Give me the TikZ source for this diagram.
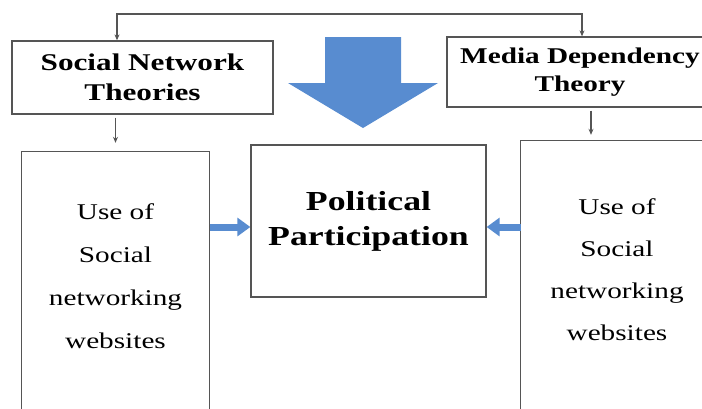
\documentclass[tikz,border=0pt]{standalone}
\usepackage{fontspec}
\setmainfont{Liberation Serif}[FakeStretch=1.3]
\usepackage{xcolor}
\usepackage{tikz}
\usetikzlibrary{arrows.meta}
\usetikzlibrary{positioning}

\definecolor{boxgray}{RGB}{85,85,85}
\definecolor{arrowblue}{RGB}{88,140,208}

\begin{document}
\begin{tikzpicture}[x=1pt, y=-1pt,
    frame/.style={draw=boxgray, line width=1.3pt},
    theory/.style={frame, align=center, inner sep=0pt, font=\bfseries},
    usebox/.style={align=center, inner sep=0pt, minimum width=188pt, font=\fontsize{22.5}{43}\selectfont},
    thinarrow/.style={draw=boxgray, line width=1.3pt, -{Stealth[length=6pt,width=5pt]}},
    bluearrow/.style={draw=arrowblue, line width=7pt, -{Triangle[length=13pt,width=18pt]}}]

        \useasboundingbox (0,0) rectangle (702,408);
        \clip (0,0) rectangle (702,408);

        % Nodos
        \node[theory, minimum width=261pt, minimum height=73pt, font=\bfseries\fontsize{24}{30}\selectfont] (snt) at (142.5,77.5) {Social Network\\Theories};
        \node[theory, minimum width=266pt, minimum height=70pt, font=\bfseries\fontsize{22.5}{28}\selectfont] (mdt) at (580,72) {Media Dependency\\Theory};
        \node[theory, minimum width=235pt, minimum height=152pt, font=\bfseries\fontsize{27.5}{35}\selectfont] (pp) at (368.5,221) {Political\\Participation};
        \node[usebox, minimum height=248pt] (usel) at (115.5,276) {Use of\\Social\\networking\\websites};
        \node[usebox, minimum width=192pt, minimum height=258pt, font=\fontsize{22.5}{42}\selectfont] (user) at (617,270) {Use of\\Social\\networking\\websites};

        % Cajas abiertas
        \draw[frame] ([yshift=-30pt]usel.south west) -- (usel.north west) -- (usel.north east) -- ([yshift=-30pt]usel.south east);
        \draw[frame] ([yshift=-30pt]user.south west) -- (user.north west) -- (user.north east) -- ([yshift=-30pt]user.south east);

        % Flecha grande
        \fill[arrowblue] (325,37) -- (401,37) -- (401,83) -- (438,83) -- (363,128) -- (288,83) -- (325,83) -- cycle;

        % Aristas
        \coordinate (barl) at ([xshift=-25.5pt]snt.north);
        \coordinate (barr) at ([xshift=2pt]mdt.north);
        \coordinate (top) at (0,14);
        \draw[thinarrow, {Stealth[length=6pt,width=5pt]}-{Stealth[length=6pt,width=5pt]}] (barl) -- (barl |- top) -- (barr |- top) -- (barr);
        \draw[thinarrow, shorten <=3pt, shorten >=9pt] (usel.north |- snt.south) -- (usel.north);
        \coordinate (rdown) at ([xshift=-26pt]user.north);
        \draw[thinarrow, shorten <=3pt, shorten >=6pt] (rdown |- mdt.south) -- (rdown);
        \coordinate (mid) at (0,227);
        \draw[bluearrow] (usel.east |- mid) -- (pp.west |- mid);
        \draw[bluearrow] (user.west |- mid) -- (pp.east |- mid);

\end{tikzpicture}
\end{document}
